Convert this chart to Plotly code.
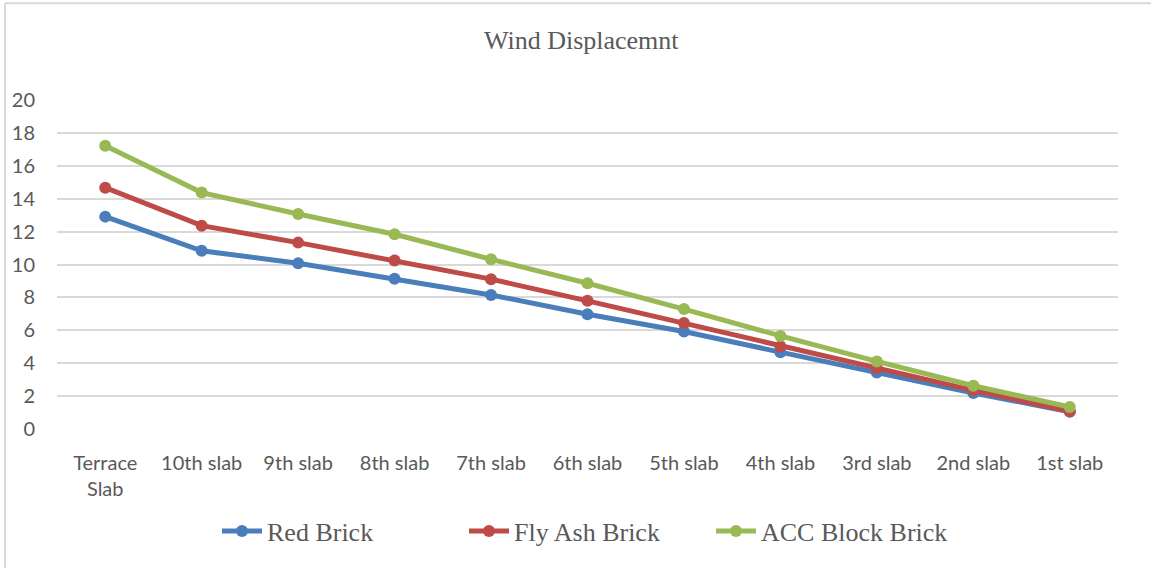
import plotly.graph_objects as go

# Floor levels, top of the building down to the first slab
floors = ["Terrace<br>Slab", "10th slab", "9th slab", "8th slab", "7th slab",
          "6th slab", "5th slab", "4th slab", "3rd slab", "2nd slab", "1st slab"]

# Wind displacement per floor for each masonry type
red_brick = [12.91, 10.83, 10.08, 9.13, 8.15, 6.98, 5.93, 4.67, 3.44, 2.19, 1.05]
fly_ash_brick = [14.67, 12.36, 11.33, 10.24, 9.11, 7.79, 6.44, 5.02, 3.70, 2.35, 1.08]
acc_block_brick = [17.22, 14.37, 13.07, 11.84, 10.32, 8.86, 7.29, 5.66, 4.11, 2.63, 1.34]

y_ticks = [0, 2, 4, 6, 8, 10, 12, 14, 16, 18, 20]

series = [
    ("Red Brick", red_brick, "#4A7EBB"),
    ("Fly Ash Brick", fly_ash_brick, "#BE4B48"),
    ("ACC Block Brick", acc_block_brick, "#98B954"),
]

fig = go.Figure()
for name, vals, color in series:
    fig.add_trace(go.Scatter(
        x=floors, y=vals, name=name, mode="lines+markers",
        line=dict(color=color, width=5),
        marker=dict(color=color, size=12),
    ))

serif = "Liberation Serif, Times New Roman, serif"
sans = "Lato, Calibri, sans-serif"

fig.update_layout(
    width=1151, height=568,
    margin=dict(l=57, r=33, t=100, b=139),
    paper_bgcolor="white", plot_bgcolor="white",
    title=dict(text="Wind Displacemnt", x=0.505, xanchor="center",
               y=0.93, yanchor="middle",
               font=dict(family=serif, size=26, color="#595959")),
    xaxis=dict(type="category", range=[-0.5, 10.5], showgrid=False,
               showline=False, zeroline=False, ticks="",
               ticklabelstandoff=20,
               tickfont=dict(family=sans, size=20, color="#595959")),
    yaxis=dict(range=[0, 20], tickvals=y_ticks, showgrid=True,
               gridcolor="#D9D9D9", gridwidth=2, zeroline=False,
               showline=False, ticks="", ticklabelstandoff=21,
               tickfont=dict(family=sans, size=20, color="#595959")),
    legend=dict(orientation="h", x=0.5, xanchor="center", y=-0.31,
                yanchor="middle", itemwidth=40,
                entrywidth=192, entrywidthmode="pixels",
                font=dict(family=serif, size=26, color="#595959")),
    showlegend=True,
)

# Light frame around the chart area
fig.add_shape(type="line", xref="paper", yref="paper",
              x0=-0.049, x1=-0.049, y0=-0.45, y1=1.294,
              line=dict(color="#D9D9D9", width=2))
fig.add_shape(type="line", xref="paper", yref="paper",
              x0=-0.049, x1=1.05, y0=1.294, y1=1.294,
              line=dict(color="#D9D9D9", width=2))

fig.write_html("out.html")
